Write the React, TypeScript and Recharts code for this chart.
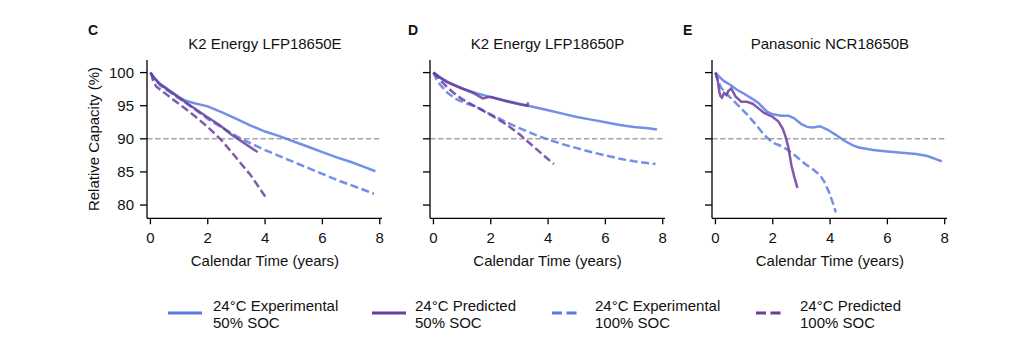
import React from 'react';
import { LineChart, Line, XAxis, YAxis, ReferenceLine } from 'recharts';

type Pt = { t: number; cap: number };
const toPts = (arr: number[][]): Pt[] => arr.map(([t, cap]) => ({ t, cap }));

// ---- Panel C: K2 Energy LFP18650E ----
const cExp50 = [[0,100],[0.1,99.4],[0.3,98.4],[0.6,97.5],[1.0,96.3],[1.2,95.8],[1.5,95.4],[2.0,94.9],[2.5,94.0],[3.0,93.0],[3.5,92.0],[4.0,91.1],[4.5,90.4],[5.0,89.6],[5.5,88.8],[6.0,88.0],[6.5,87.2],[7.0,86.5],[7.5,85.7],[7.85,85.1]];
const cPred50 = [[0,100],[0.1,99.3],[0.3,98.4],[0.6,97.4],[1.0,96.2],[1.2,95.6],[1.53,94.6],[1.94,93.4],[2.41,92.1],[2.81,90.7],[3.22,89.5],[3.74,88.0]];
const cExp100 = [[0,100],[0.15,99.0],[0.35,98.0],[0.7,97.0],[1.0,96.1],[1.5,94.6],[2.0,93.0],[2.5,91.7],[3.0,90.4],[3.5,89.3],[4.0,88.3],[4.5,87.4],[5.0,86.5],[5.5,85.6],[6.0,84.7],[6.5,83.8],[7.0,83.0],[7.5,82.2],[7.8,81.7]];
const cPred100 = [[0.03,99.9],[0.1,98.6],[0.2,97.9],[0.5,96.9],[0.8,95.9],[1.2,94.6],[1.5,93.6],[2.0,91.8],[2.5,89.7],[3.0,87.1],[3.5,84.5],[4.05,81.0]];

// ---- Panel D: K2 Energy LFP18650P ----
const dExp50 = [[0,100],[0.2,99.4],[0.5,98.6],[1.0,97.6],[1.5,96.9],[2.0,96.3],[2.5,95.8],[3.0,95.3],[3.5,94.8],[4.0,94.3],[4.5,93.8],[5.0,93.3],[5.5,92.9],[6.0,92.5],[6.5,92.1],[7.0,91.8],[7.5,91.6],[7.8,91.4]];
const dPred50 = [[0,100],[0.2,99.3],[0.5,98.5],[1.0,97.6],[1.4,96.9],[1.6,96.4],[1.72,96.1],[1.92,96.3],[2.0,96.3],[2.5,95.7],[3.0,95.2],[3.28,95.0],[3.3,95.5]];
const dExp100 = [[0,100],[0.1,99.0],[0.25,98.1],[0.5,96.9],[0.8,96.0],[1.0,95.6],[1.5,94.8],[2.0,93.7],[2.5,92.6],[3.0,91.6],[3.5,90.7],[4.0,89.9],[4.5,89.2],[5.0,88.6],[5.5,88.0],[6.0,87.5],[6.5,87.0],[7.0,86.6],[7.75,86.2]];
const dPred100 = [[0,100],[0.15,99.3],[0.3,98.6],[0.5,97.7],[0.8,96.6],[1.0,96.0],[1.5,94.8],[2.0,93.6],[2.5,92.3],[3.0,90.7],[3.5,88.8],[3.9,87.3],[4.2,86.2]];

// ---- Panel E: Panasonic NCR18650B ----
const eExp50 = [[0,100],[0.1,99.5],[0.3,98.7],[0.5,98.2],[0.75,97.4],[1.0,96.8],[1.3,96.0],[1.5,95.4],[1.8,94.1],[2.0,93.7],[2.3,93.5],[2.55,93.5],[2.75,93.1],[3.0,92.2],[3.2,91.8],[3.4,91.7],[3.65,91.9],[3.9,91.4],[4.2,90.6],[4.5,89.7],[4.8,89.0],[5.0,88.7],[5.5,88.3],[6.0,88.1],[6.5,87.9],[7.0,87.7],[7.4,87.4],[7.9,86.6]];
const ePred50 = [[0,100],[0.08,98.8],[0.14,97.0],[0.18,96.4],[0.23,96.2],[0.3,96.9],[0.38,96.6],[0.45,97.2],[0.55,97.6],[0.7,96.4],[0.9,95.6],[1.1,95.6],[1.3,95.3],[1.5,94.6],[1.7,93.9],[2.0,93.3],[2.2,92.6],[2.35,91.5],[2.45,90.3],[2.55,88.6],[2.65,86.0],[2.75,84.3],[2.86,82.6]];
const eExp100 = [[0,100],[0.1,98.7],[0.2,97.7],[0.5,96.3],[0.8,95.0],[1.1,93.7],[1.4,92.2],[1.7,90.6],[2.0,89.4],[2.3,88.9],[2.5,88.4],[2.8,87.4],[3.1,86.3],[3.4,85.4],[3.65,84.5],[3.8,83.5],[3.95,82.1],[4.1,80.3],[4.2,78.9]];

const xTicks = [0, 2, 4, 6, 8];
const yTicks = [80, 85, 90, 95, 100];
const panelTitles = ['K2 Energy LFP18650E', 'K2 Energy LFP18650P', 'Panasonic NCR18650B'];
const panelLetters = ['C', 'D', 'E'];
const legendLabels = [
  ['24°C Experimental', '50% SOC'],
  ['24°C Predicted', '50% SOC'],
  ['24°C Experimental', '100% SOC'],
  ['24°C Predicted', '100% SOC'],
];

const FONT = '"Liberation Sans", Arial, Helvetica, sans-serif';
const BLUE = '#5b7be2';
const PURPLE = '#6a3d9c';
const X_DOMAIN: [number, number] = [-0.12, 8.08];
const Y_DOMAIN: [number, number] = [78, 101.9];
const PLOT_W = 235;
const PLOT_TOP = 60;
const PLOT_BOTTOM = 218.3;
const Y_AXIS_W = 60;
const X_AXIS_H = 30;
const CHART_W = Y_AXIS_W + PLOT_W + 10;
const CHART_H = 350;
const plotLefts = [147.4, 430, 712.4];
const letterXs = [88, 408, 683];

type Series = { data: number[][]; color: string; dashed: boolean };

function Panel({ left, series, showYLabels }: { left: number; series: Series[]; showYLabels: boolean }) {
  return (
    <div style={{ position: 'absolute', left: left - Y_AXIS_W, top: 0 }}>
      <LineChart
        width={CHART_W}
        height={CHART_H}
        margin={{ top: PLOT_TOP, right: 10, left: 0, bottom: CHART_H - PLOT_BOTTOM - X_AXIS_H }}
      >
        <XAxis
          dataKey="t"
          type="number"
          domain={X_DOMAIN}
          ticks={xTicks}
          allowDataOverflow
          height={X_AXIS_H}
          tickSize={6}
          tickMargin={8}
          axisLine={{ stroke: '#000', strokeWidth: 1.3 }}
          tickLine={{ stroke: '#000', strokeWidth: 1.3 }}
          tick={{ fill: '#111', fontSize: 15, fontFamily: FONT }}
        />
        <XAxis
          xAxisId="top"
          orientation="top"
          type="number"
          domain={X_DOMAIN}
          allowDataOverflow
          height={0}
          tick={false}
          tickLine={false}
          axisLine={{ stroke: '#000', strokeWidth: 1.3 }}
        />
        <YAxis
          type="number"
          domain={Y_DOMAIN}
          ticks={yTicks}
          allowDataOverflow
          width={Y_AXIS_W}
          tickSize={7}
          tickMargin={6}
          tickFormatter={(v: number) => (showYLabels ? String(v) : '')}
          axisLine={{ stroke: '#000', strokeWidth: 1.3 }}
          tickLine={{ stroke: '#000', strokeWidth: 1.3 }}
          tick={{ fill: '#111', fontSize: 15, fontFamily: FONT }}
        />
        <YAxis
          yAxisId="right"
          orientation="right"
          type="number"
          domain={Y_DOMAIN}
          allowDataOverflow
          width={0}
          tick={false}
          tickLine={false}
          axisLine={{ stroke: '#000', strokeWidth: 1.3 }}
        />
        <ReferenceLine y={90} stroke="#a3a3a3" strokeWidth={1.5} strokeDasharray="5.5 2.6" />
        {series.map((s, i) => (
          <Line
            key={i}
            data={toPts(s.data)}
            dataKey="cap"
            type="linear"
            stroke={s.color}
            strokeOpacity={0.85}
            strokeWidth={2.5}
            strokeDasharray={s.dashed ? '8 3.6' : undefined}
            dot={false}
            activeDot={false}
            isAnimationActive={false}
          />
        ))}
      </LineChart>
    </div>
  );
}

const panelSeries: Series[][] = [
  [
    { data: cExp50, color: BLUE, dashed: false },
    { data: cExp100, color: BLUE, dashed: true },
    { data: cPred50, color: PURPLE, dashed: false },
    { data: cPred100, color: PURPLE, dashed: true },
  ],
  [
    { data: dExp50, color: BLUE, dashed: false },
    { data: dExp100, color: BLUE, dashed: true },
    { data: dPred50, color: PURPLE, dashed: false },
    { data: dPred100, color: PURPLE, dashed: true },
  ],
  [
    { data: eExp50, color: BLUE, dashed: false },
    { data: eExp100, color: BLUE, dashed: true },
    { data: ePred50, color: PURPLE, dashed: false },
  ],
];

const legendItems = [
  { lineX: 168, lineLen: 34, textX: 213, color: BLUE, dashed: false },
  { lineX: 372, lineLen: 34, textX: 415, color: PURPLE, dashed: false },
  { lineX: 552, lineLen: 25, textX: 595, color: BLUE, dashed: true },
  { lineX: 756, lineLen: 25, textX: 800, color: PURPLE, dashed: true },
];

export default function App() {
  return (
    <div style={{ position: 'absolute', left: 0, top: 0, width: 1024, height: 350, background: '#fff', overflow: 'hidden' }}>
      {plotLefts.map((l, i) => (
        <Panel key={i} left={l} series={panelSeries[i]} showYLabels={i === 0} />
      ))}
      <svg width={1024} height={350} style={{ position: 'absolute', left: 0, top: 0, pointerEvents: 'none' }}>
        {plotLefts.map((l, i) => (
          <g key={i} fontFamily={FONT} fill="#111">
            <text x={letterXs[i]} y={35} fontSize={14} fontWeight="bold">{panelLetters[i]}</text>
            <text x={l + PLOT_W / 2} y={49.3} fontSize={15} textAnchor="middle">{panelTitles[i]}</text>
            <text x={l + PLOT_W / 2} y={265.5} fontSize={15} textAnchor="middle">Calendar Time (years)</text>
          </g>
        ))}
        <text
          x={0}
          y={0}
          fontFamily={FONT}
          fontSize={15}
          fill="#111"
          textAnchor="middle"
          dominantBaseline="central"
          transform={`translate(93, 139) rotate(-90)`}
        >
          Relative Capacity (%)
        </text>
        {legendItems.map((it, i) => (
          <g key={i} fontFamily={FONT} fontSize={15} fill="#111">
            <line
              x1={it.lineX}
              x2={it.lineX + it.lineLen}
              y1={313}
              y2={313}
              stroke={it.color}
              strokeWidth={2.8}
              strokeDasharray={it.dashed ? '10 4.5' : undefined}
            />
            <text x={it.textX} y={310.5}>{legendLabels[i][0]}</text>
            <text x={it.textX} y={327.5}>{legendLabels[i][1]}</text>
          </g>
        ))}
      </svg>
    </div>
  );
}
